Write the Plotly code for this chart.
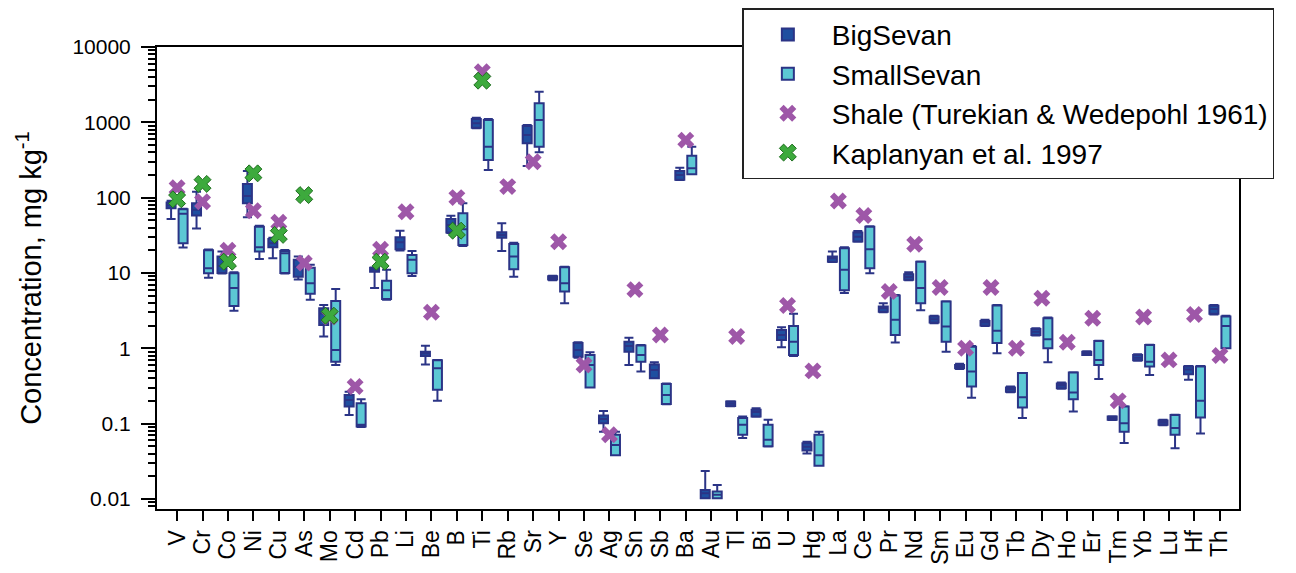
import plotly.graph_objects as go

elements = ["V","Cr","Co","Ni","Cu","As","Mo","Cd","Pb","Li","Be","B","Ti","Rb","Sr","Y","Se","Ag","Sn","Sb","Ba","Au","Tl","Bi","U","Hg","La","Ce","Pr","Nd","Sm","Eu","Gd","Tb","Dy","Ho","Er","Tm","Yb","Lu","Hf","Th"]

# BigSevan box statistics (mg/kg)
big_min = [52, 39, 9.8, 55, 15.7, 8.2, 1.43, 0.13, 6.3, 19.8, 0.61, 34, 835, 19.6, 263, 8.0, 0.75, 0.078, 0.60, 0.40, 171, 0.0102, 0.170, 0.123, 1.03, 0.040, 14, 26, 3.0, 8.0, 2.15, 0.53, 1.98, 0.26, 1.48, 0.29, 0.81, 0.111, 0.68, 0.095, 0.38, 2.8]
big_q1 = [72, 58, 10, 84, 21.9, 8.9, 2.04, 0.168, 10.4, 20.6, 0.79, 34.3, 849, 29.4, 527, 8.2, 0.77, 0.101, 0.90, 0.40, 172, 0.0102, 0.171, 0.124, 1.29, 0.0438, 14.1, 26.2, 3.06, 8.1, 2.19, 0.54, 2.0, 0.265, 1.5, 0.295, 0.815, 0.112, 0.69, 0.096, 0.45, 2.86]
big_med = [79, 69, 12.4, 105, 24.8, 12.1, 2.9, 0.206, 11.1, 25.5, 0.85, 43.4, 970, 31.9, 679, 8.6, 0.95, 0.115, 1.07, 0.515, 200, 0.0119, 0.183, 0.142, 1.5, 0.049, 15.7, 30.3, 3.4, 8.8, 2.43, 0.57, 2.19, 0.285, 1.65, 0.32, 0.855, 0.118, 0.745, 0.103, 0.52, 3.32]
big_q3 = [86, 84, 16.5, 152, 28.3, 14.9, 3.4, 0.24, 11.7, 29.8, 0.90, 52, 1107, 34.7, 894, 9.0, 1.17, 0.128, 1.22, 0.61, 226, 0.0131, 0.196, 0.152, 1.75, 0.0548, 16.5, 34.3, 3.57, 9.6, 2.63, 0.60, 2.3, 0.30, 1.8, 0.34, 0.90, 0.124, 0.815, 0.11, 0.57, 3.66]
big_max = [91, 120, 19.2, 226, 29.4, 16.5, 3.76, 0.265, 11.8, 36.4, 1.08, 57.6, 1150, 45.7, 922, 9.2, 1.2, 0.147, 1.38, 0.65, 250, 0.0235, 0.198, 0.16, 1.9, 0.0575, 19.2, 36, 3.96, 10.2, 2.7, 0.62, 2.38, 0.31, 1.84, 0.35, 0.91, 0.125, 0.83, 0.112, 0.58, 3.76]

# SmallSevan box statistics (mg/kg)
small_min = [21.7, 8.6, 3.15, 15.3, 9.8, 4.4, 0.60, 0.090, 4.4, 9.1, 0.2, 22.8, 233, 8.9, 400, 3.96, 0.30, 0.038, 0.49, 0.18, 204, 0.0102, 0.064, 0.0495, 0.79, 0.0274, 5.4, 9.9, 1.19, 3.2, 0.90, 0.22, 0.86, 0.118, 0.65, 0.144, 0.39, 0.055, 0.44, 0.047, 0.074, 1.0]
small_q1 = [24.8, 9.9, 3.65, 19.2, 10, 5.3, 0.66, 0.091, 4.5, 9.9, 0.28, 23.5, 316, 11.2, 475, 5.65, 0.30, 0.038, 0.66, 0.182, 204, 0.0102, 0.071, 0.050, 0.815, 0.0274, 5.9, 11.5, 1.5, 3.96, 1.22, 0.31, 1.17, 0.163, 1.0, 0.21, 0.60, 0.078, 0.57, 0.071, 0.12, 1.0]
small_med = [61, 11.5, 6.3, 22, 18.2, 7.3, 0.95, 0.096, 5.9, 14.9, 0.54, 38, 475, 16.5, 1074, 7.3, 0.60, 0.052, 0.81, 0.24, 245, 0.0113, 0.096, 0.061, 1.22, 0.038, 11, 20.6, 2.38, 6.3, 1.94, 0.49, 1.71, 0.224, 1.32, 0.258, 0.70, 0.101, 0.66, 0.087, 0.2, 1.98]
small_q3 = [70, 20, 9.9, 41, 19.6, 11.7, 4.25, 0.186, 7.9, 17.3, 0.69, 62, 1074, 24.3, 1790, 11.9, 0.815, 0.071, 1.09, 0.336, 361, 0.0125, 0.118, 0.096, 1.98, 0.071, 21.3, 41, 5.0, 14.1, 4.16, 1.05, 3.7, 0.467, 2.5, 0.475, 1.25, 0.168, 1.1, 0.13, 0.57, 2.63]
small_max = [71, 20.5, 10.2, 42.4, 20.2, 12.8, 6.1, 0.21, 11, 19.6, 0.70, 84, 1107, 25.2, 2550, 12.1, 0.885, 0.078, 1.1, 0.34, 475, 0.0153, 0.124, 0.112, 2.86, 0.078, 21.9, 41.5, 5.1, 14.2, 4.2, 1.07, 3.76, 0.47, 2.55, 0.48, 1.26, 0.17, 1.11, 0.131, 0.58, 2.7]

# Reference values
shale = [135, 88, 20, 67, 47, 13.5, 2.6, 0.31, 20.6, 65, 3.0, 100, 4700, 140, 300, 26, 0.6, 0.071, 6.0, 1.5, 580, None, 1.43, None, 3.7, 0.5, 90, 58, 5.65, 24, 6.4, 1.0, 6.4, 1.0, 4.6, 1.2, 2.5, 0.2, 2.6, 0.7, 2.8, 0.8]
kaplanyan_el = ["V","Cr","Co","Ni","Cu","As","Mo","Pb","B","Ti"]
kaplanyan = [95, 152, 14.1, 210, 32, 108, 2.7, 14.1, 36.4, 3570]

FONT = "Liberation Sans, Arial, sans-serif"
EDGE = "#2B3486"

fig = go.Figure()
fig.add_trace(go.Box(
    x=elements, q1=big_q1, median=big_med, q3=big_q3,
    lowerfence=big_min, upperfence=big_max,
    name="BigSevan", fillcolor="#1F4FA0",
    line=dict(color=EDGE, width=2), whiskerwidth=1, boxpoints=False))
fig.add_trace(go.Box(
    x=elements, q1=small_q1, median=small_med, q3=small_q3,
    lowerfence=small_min, upperfence=small_max,
    name="SmallSevan", fillcolor="#5CC8D4",
    line=dict(color=EDGE, width=2), whiskerwidth=1, boxpoints=False))
fig.add_trace(go.Scatter(
    x=elements, y=shale, mode="markers", name="Shale (Turekian & Wedepohl 1961)",
    marker=dict(symbol="x", size=15, color="#9E57A8", line=dict(width=0))))
fig.add_trace(go.Scatter(
    x=kaplanyan_el, y=kaplanyan, mode="markers", name="Kaplanyan et al. 1997",
    marker=dict(symbol="x", size=15, color="#3DAA3D", line=dict(width=1, color="#1E6E1E"))))

minor_vals = [k * 10 ** e for e in range(-3, 4) for k in range(2, 10)]

fig.update_layout(
    width=1296, height=573,
    margin=dict(l=157, r=57, t=47, b=64, autoexpand=False),
    paper_bgcolor="white", plot_bgcolor="white",
    font=dict(family=FONT, color="black"),
    boxmode="group", boxgap=0.057, boxgroupgap=0.25,
    showlegend=True,
    legend=dict(
        x=0.541, y=1.084, xanchor="left", yanchor="top",
        bgcolor="white", bordercolor="#222", borderwidth=1.5,
        font=dict(size=28, family=FONT), itemwidth=78,
        traceorder="normal"),
    xaxis=dict(
        type="category", categoryorder="array", categoryarray=elements,
        range=[-0.79, 41.75], dtick=1, tickmode="linear",
        showline=True, linecolor="black", linewidth=2, mirror=True,
        ticks="outside", ticklen=10, tickwidth=1.5, tickcolor="black",
        tickangle=-90, tickfont=dict(size=23, family=FONT),
        showgrid=False, zeroline=False),
    yaxis=dict(
        type="log", range=[-2.135, 4.0],
        tickvals=[0.01, 0.1, 1, 10, 100, 1000, 10000],
        ticktext=["0.01", "0.1", "1", "10", "100", "1000", "10000"],
        showline=True, linecolor="black", linewidth=2, mirror=True,
        ticks="outside", ticklen=14, tickwidth=1.5, tickcolor="black",
        ticklabelstandoff=6,
        minor=dict(tickvals=minor_vals, ticks="outside", ticklen=7, tickwidth=1.5, tickcolor="black", showgrid=False),
        tickfont=dict(size=21, family=FONT),
        title=dict(text="Concentration, mg kg<sup>-1</sup>", font=dict(size=29, family=FONT), standoff=22),
        showgrid=False, zeroline=False),
)

fig.write_html("out.html", config={"displayModeBar": False},
               post_script="document.body.style.margin='0px';")
